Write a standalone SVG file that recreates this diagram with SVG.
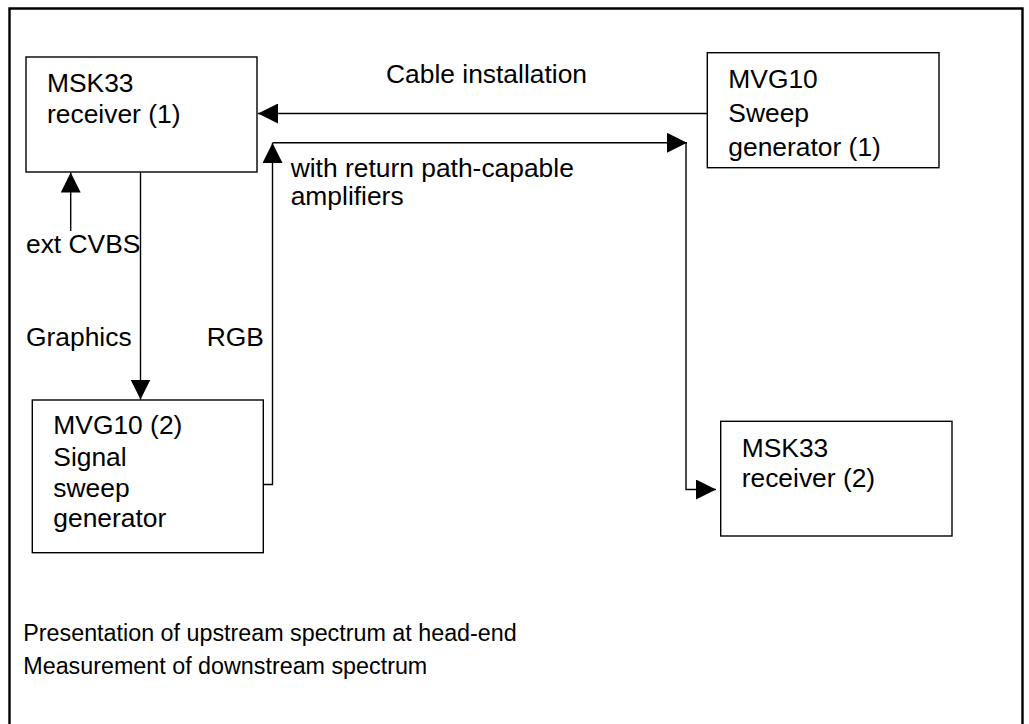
<svg xmlns="http://www.w3.org/2000/svg" width="1029" height="724" viewBox="0 0 1029 724">
<defs>
<style>
.box{fill:#fff;stroke:#000;stroke-width:1.4}
.ln{fill:none;stroke:#000;stroke-width:1.4}
text{font-family:"Liberation Sans",Arial,sans-serif;font-size:26.4px;fill:#000}
.small{font-size:23.3px}
</style>
<marker id="ah" viewBox="0 0 20 20" refX="20" refY="10" markerWidth="20" markerHeight="20" markerUnits="userSpaceOnUse" orient="auto">
<path d="M0,0 L20,10 L0,20 z" fill="#000"/>
</marker>
</defs>
<rect width="1029" height="724" fill="#fff"/>
<path d="M9.5,730 V8.5 H1022.5 V730" fill="none" stroke="#000" stroke-width="2.4"/>

<g id="connectors">
<line class="ln" x1="707" y1="113.5" x2="258" y2="113.5" marker-end="url(#ah)"/>
<path class="ln" d="M263,484.5 H272.5 V143" marker-end="url(#ah)"/>
<line class="ln" x1="272.5" y1="142.8" x2="687" y2="142.8" marker-end="url(#ah)"/>
<path class="ln" d="M686,142.8 V489.5 H716" marker-end="url(#ah)"/>
<line class="ln" x1="140.5" y1="172" x2="140.5" y2="399.5" marker-end="url(#ah)"/>
<line class="ln" x1="70.7" y1="231" x2="70.7" y2="172.5" marker-end="url(#ah)"/>
<text x="386" y="83.3">Cable installation</text>
<text x="290.7" y="177">with return path-capable</text>
<text x="290.7" y="205">amplifiers</text>
<text x="26" y="253.3">ext CVBS</text>
<text x="26" y="345.7">Graphics</text>
<text x="206.7" y="345.7">RGB</text>
</g>

<g id="msk33-1">
<rect class="box" x="26" y="57" width="231" height="115"/>
<text x="47" y="91.7">MSK33</text>
<text x="47" y="123.3">receiver (1)</text>
</g>

<g id="mvg10-1">
<rect class="box" x="707.3" y="52.7" width="231.7" height="115"/>
<text x="728.3" y="87.7">MVG10</text>
<text x="728.3" y="121.7">Sweep</text>
<text x="728.3" y="156.3">generator (1)</text>
</g>

<g id="mvg10-2">
<rect class="box" x="32.3" y="400" width="231" height="152.7"/>
<text x="53.3" y="434">MVG10 (2)</text>
<text x="53.3" y="466">Signal</text>
<text x="53.3" y="496.7">sweep</text>
<text x="53.3" y="526.7">generator</text>
</g>

<g id="msk33-2">
<rect class="box" x="720.7" y="421.3" width="231.3" height="114.7"/>
<text x="741.7" y="457.3">MSK33</text>
<text x="741.7" y="487.3">receiver (2)</text>
</g>

<g id="notes">
<text class="small" x="23.3" y="640.7">Presentation of upstream spectrum at head-end</text>
<text class="small" x="23.3" y="674">Measurement of downstream spectrum</text>
</g>
</svg>
